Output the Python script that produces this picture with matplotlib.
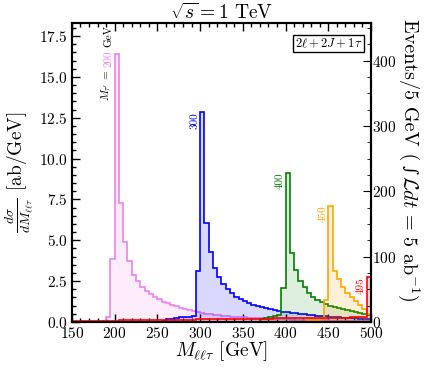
import numpy as np
import matplotlib
matplotlib.use("Agg")
import matplotlib.pyplot as plt
from matplotlib.ticker import MultipleLocator

plt.rcParams['mathtext.fontset'] = 'cm'
plt.rcParams['font.family'] = 'serif'
plt.rcParams['font.serif'] = ['cmr10', 'DejaVu Serif']
plt.rcParams['axes.formatter.use_mathtext'] = True

BIN = 5.0
# mass points and colours
masses = ["200", "300", "400", "450", "495"]
colors = ["violet", "blue", "green", "orange", "red"]

# dsigma/dM [ab/GeV] per 5 GeV bin, first bin lower edge given in *_start
m200_start = 185
m200_vals = [0.05, 0.3, 3.85, 16.4, 7.3, 4.9, 3.75, 2.88, 2.5, 2.15, 1.9, 1.68, 1.5,
             1.38, 1.24, 1.14, 1.03, 0.95, 0.88, 0.80, 0.73, 0.66, 0.60, 0.55, 0.51,
             0.47, 0.44, 0.41, 0.38, 0.36, 0.33, 0.31, 0.29, 0.27, 0.26, 0.24, 0.23,
             0.21, 0.20, 0.19, 0.18, 0.17, 0.16, 0.15, 0.14, 0.13, 0.12, 0.12, 0.11,
             0.10, 0.10, 0.09, 0.09, 0.08, 0.08, 0.07, 0.07, 0.06, 0.06, 0.05, 0.05,
             0.04, 0.04]
m300_start = 255
m300_vals = [0.08, 0.15, 0.2, 0.25, 0.28, 0.3, 0.33, 0.38,
             3.12, 12.85, 6.04, 4.26, 3.28, 2.73, 2.31, 2.0, 1.75, 1.55, 1.38, 1.25,
             1.14, 1.05, 0.97, 0.9, 0.84, 0.78, 0.73, 0.68, 0.63, 0.59, 0.55, 0.52,
             0.49, 0.46, 0.43, 0.41, 0.38, 0.36, 0.34, 0.32, 0.3, 0.28, 0.26, 0.25,
             0.23, 0.22, 0.2, 0.19, 0.18]
m400_start = 370
m400_vals = [0.2, 0.25, 0.3, 0.35, 0.4,
             2.1, 9.14, 4.2, 3.18, 2.53, 2.16, 1.79, 1.55, 1.35, 1.2, 1.1, 1.0, 0.92,
             0.85, 0.78, 0.72, 0.66, 0.6, 0.55, 0.5, 0.45]
m450_start = 425
m450_vals = [0.1, 0.12, 0.14, 0.16,
             1.35, 7.12, 3.14, 2.61, 2.16, 1.79, 1.51, 1.29, 1.04, 0.78, 0.5]
m495_start = 150
m495_vals = [0.05, 0.05, 0.06, 0.06, 0.06, 0.07, 0.07, 0.07, 0.08, 0.08,
             0.08, 0.09, 0.09, 0.09, 0.10, 0.10, 0.10, 0.11, 0.11, 0.11,
             0.12, 0.12, 0.12, 0.13, 0.13, 0.13, 0.14, 0.14, 0.14, 0.15,
             0.15, 0.15, 0.16, 0.16, 0.16, 0.17, 0.17, 0.17, 0.18, 0.18,
             0.18, 0.19, 0.19, 0.19, 0.20, 0.20, 0.20, 0.21, 0.21, 0.21,
             0.22, 0.22, 0.22, 0.23, 0.23, 0.23, 0.24, 0.24, 0.24, 0.25,
             0.25, 0.25, 0.26, 0.26, 0.26, 0.27, 0.27, 0.27, 0.28,
             2.73]

series = [(m200_start, m200_vals), (m300_start, m300_vals), (m400_start, m400_vals),
          (m450_start, m450_vals), (m495_start, m495_vals)]
fill_alpha = [0.15, 0.15, 0.13, 0.15, 0.12]

LUMI = 5.0  # ab^-1
xticks = [150, 200, 250, 300, 350, 400, 450, 500]
yticks = [0.0, 2.5, 5.0, 7.5, 10.0, 12.5, 15.0, 17.5]
yticks_r = [0, 100, 200, 300, 400]

fig = plt.figure(figsize=(4.36, 3.70), dpi=100)
ax = fig.add_axes([0.165, 0.13, 0.686, 0.808])

for i, ((start, vals), c) in enumerate(zip(series, colors)):
    v = np.array(vals, dtype=float)
    edges = start + BIN * np.arange(len(v) + 1)
    ax.stairs(v, edges, fill=True, color=c, alpha=fill_alpha[i], lw=0, zorder=1 + i)
    ax.stairs(v, edges, color=c, lw=1.2, zorder=2 + i, baseline=0)

ax.set_xlim(150, 500)
ax.set_ylim(0, 18.3)
ax.set_xticks(xticks)
ax.set_yticks(yticks)
ax.set_xticklabels([r"$\mathbf{%d}$" % t for t in xticks], fontsize=11)
ax.set_yticklabels([r"$\mathbf{%.1f}$" % t for t in yticks], fontsize=11)
ax.xaxis.set_minor_locator(MultipleLocator(10))
ax.yaxis.set_minor_locator(MultipleLocator(0.5))
ax.tick_params(which='both', direction='in', top=True, right=False, width=1)
ax.tick_params(which='major', length=6, pad=3)
ax.tick_params(which='minor', length=3)
for s in ax.spines.values():
    s.set_linewidth(1.5)

ax.set_xlabel(r"$M_{\ell\ell\tau}$ [GeV]", fontsize=14, labelpad=-1)
ax.set_ylabel(r"$\frac{d\sigma}{dM_{\ell\ell\tau}}$ [ab/GeV]", fontsize=14, labelpad=2)
ax.set_title(r"$\sqrt{s}=1$ TeV", fontsize=14, pad=1)

ax2 = ax.twinx()
ax2.set_ylim(0, 18.3 * LUMI * BIN)
ax2.set_yticks(yticks_r)
ax2.set_yticklabels([r"$\mathbf{%d}$" % t for t in yticks_r], fontsize=11)
ax2.yaxis.set_minor_locator(MultipleLocator(25))
ax2.tick_params(which='both', direction='in')
ax2.tick_params(which='major', length=6, pad=1)
ax2.tick_params(which='minor', length=3)
for s in ax2.spines.values():
    s.set_linewidth(1.5)

# right-hand label built in pieces (small integral sign)
t1 = fig.text(0.938, 0.948, "Events/5 GeV (", fontsize=14.5, rotation=270,
              ha='center', va='top')
t2 = ax.annotate("\u222b", xy=(0.5, 0), xycoords=t1, xytext=(0, -3),
                 textcoords='offset points', fontsize=12.5, rotation=270,
                 ha='center', va='top', family='DejaVu Serif', annotation_clip=False)
t3 = ax.annotate(r"$\mathcal{L}dt$ = 5 ab$^{-1}$)", xy=(0.5, 0), xycoords=t2,
                 xytext=(0, -1), textcoords='offset points', fontsize=14.5,
                 rotation=270, ha='center', va='top', annotation_clip=False)

ax.text(0.97, 0.955, r"$2\ell+2J+1\tau$", transform=ax.transAxes, ha='right', va='top',
        fontsize=9, bbox=dict(boxstyle='square,pad=0.15', fc='white', ec='black', lw=1))

# rotated mass labels
lab_fs = 8
ax.text(198.5, 18.15, "GeV", rotation=90, ha='right', va='top', fontsize=lab_fs, color='black')
ax.text(198.5, 16.1, "200", rotation=90, ha='right', va='center', fontsize=lab_fs, color='violet')
ax.text(198.5, 14.5, r"$M_{\tau'}$ =", rotation=90, ha='right', va='center', fontsize=lab_fs, color='black')
lab_pos = [(299.0, 12.85, "300", "blue"), (399.0, 9.14, "400", "green"),
           (449.0, 7.12, "450", "orange"), (494.0, 2.73, "495", "red")]
for x, y, t, c in lab_pos:
    ax.text(x, y, t, rotation=90, ha='right', va='top', fontsize=lab_fs, color=c)

fig.savefig("out.png", dpi=100)
